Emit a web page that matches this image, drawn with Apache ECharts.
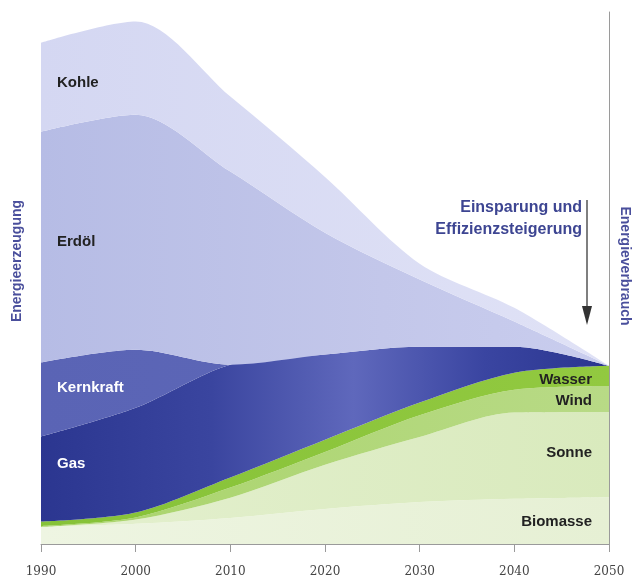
<!DOCTYPE html>
<html>
<head>
<meta charset="utf-8">
<script src="https://cdn.jsdelivr.net/npm/echarts@6/dist/echarts.min.js"></script>
<style>
html,body{margin:0;padding:0;background:#fff;}
#chart{width:642px;height:579px;}
</style>
</head>
<body>
<div id="chart"></div>
<script>
// Years (x axis categories / tick labels)
const years = ['1990', '2000', '2010', '2020', '2030', '2040', '2050'];
// Stacked layers, bottom to top (relative units)
const biomasse  = [3.2, 3.8, 4.9, 6.6, 7.9, 8.5, 8.8];
const sonne     = [0.0, 0.8, 3.8, 8.3, 12.2, 16.2, 16.0];
const wind      = [0.2, 0.4, 1.9, 2.4, 4.1, 4.3, 4.9];
const wasser    = [0.8, 0.9, 1.9, 2.3, 2.4, 3.2, 3.8];
const gas       = [16.0, 19.7, 21.2, 16.0, 10.5, 4.9, 0.0];
const kernkraft = [13.9, 10.9, 0.0, 0.0, 0.0, 0.0, 0.0];
const erdoel    = [43.4, 44.2, 36.3, 22.9, 12.6, 4.7, 0.0];
const kohle     = [16.7, 17.5, 14.1, 10.5, 3.0, 2.6, 0.0];

const seriesNames = ['Biomasse','Sonne','Wind','Wasser','Gas','Kernkraft','Erdöl','Kohle'];
const seriesData = [biomasse, sonne, wind, wasser, gas, kernkraft, erdoel, kohle];

function hgrad(stops){
  return {type:'linear', x:0, y:0, x2:1, y2:0,
    colorStops: stops.map(s => ({offset:s[0], color:s[1]}))};
}
const fills = [
  hgrad([[0,'#eef5e2'],[1,'#e6f0d4']]),
  hgrad([[0,'#e4f0cf'],[1,'#d9eabd']]),
  hgrad([[0,'#a9d46a'],[1,'#b8da86']]),
  hgrad([[0,'#86c238'],[1,'#92c940']]),
  hgrad([[0,'#2b3690'],[0.3,'#3a459f'],[0.55,'#5f68bc'],[0.78,'#3a45a1'],[1,'#2a358f']]),
  hgrad([[0,'#5a64b5'],[1,'#5f69b9']]),
  hgrad([[0,'#b6bce5'],[0.6,'#c3c7ea'],[1,'#c9cdee']]),
  hgrad([[0,'#d4d7f2'],[1,'#e0e2f6']])
];

const series = seriesNames.map((name, i) => ({
  name: name,
  type: 'line',
  stack: 'total',
  smooth: 0.3,
  symbol: 'none',
  showSymbol: false,
  lineStyle: {width: 0},
  areaStyle: {color: fills[i], opacity: 1},
  data: seriesData[i]
}));

const labelFont = 'Liberation Sans, Arial, sans-serif';
function txt(x, y, t, color, align){
  return {type:'text', x: x, y: y, z: 100,
    style:{text:t, fill:color, font:'bold 15px ' + labelFont,
      textAlign: align || 'left', textVerticalAlign:'middle'}};
}
function vtxt(x, y, t, rot){
  return {type:'text', x: x, y: y, rotation: rot, z: 100,
    style:{text:t, fill:'#4a4f9c', font:'bold 14px ' + labelFont,
      textAlign:'center', textVerticalAlign:'middle'}};
}

const chart = echarts.init(document.getElementById('chart'), null, {renderer:'canvas'});
chart.setOption({
  animation: false,
  backgroundColor: '#ffffff',
  grid: {left: 41, right: 33, top: 12, bottom: 35, containLabel: false, outerBoundsMode: 'none'},
  xAxis: {
    type: 'category', data: years, boundaryGap: false,
    axisLine: {show: true, lineStyle: {color: '#9a9a9a', width: 1}},
    axisTick: {show: true, length: 8, lineStyle: {color: '#9a9a9a'}},
    axisLabel: {color: '#444', fontSize: 12, margin: 22, fontFamily: 'DejaVu Serif, serif', interval: 0},
    splitLine: {show: false}
  },
  yAxis: [
    {type: 'value', min: 0, max: 100, position: 'left',
      axisLine: {show: false}, axisTick: {show: false}, axisLabel: {show: false},
      splitLine: {show: false}},
    {type: 'value', min: 0, max: 100, position: 'right',
      axisLine: {show: true, lineStyle: {color: '#9a9a9a', width: 1}},
      axisTick: {show: false}, axisLabel: {show: false}, splitLine: {show: false}}
  ],
  series: series,
  graphic: [
    vtxt(17, 261, 'Energieerzeugung', Math.PI / 2),
    vtxt(625, 266, 'Energieverbrauch', -Math.PI / 2),
    txt(57, 83, 'Kohle', '#222'),
    txt(57, 242, 'Erdöl', '#222'),
    txt(57, 388, 'Kernkraft', '#ffffff'),
    txt(57, 464, 'Gas', '#ffffff'),
    txt(592, 380, 'Wasser', '#222', 'right'),
    txt(592, 401, 'Wind', '#222', 'right'),
    txt(592, 453, 'Sonne', '#222', 'right'),
    txt(592, 522, 'Biomasse', '#222', 'right'),
    {type:'text', x: 582, y: 208, z: 100,
      style:{text:'Einsparung und', fill:'#3d4592', font:'bold 16px ' + labelFont,
        textAlign:'right', textVerticalAlign:'middle'}},
    {type:'text', x: 582, y: 230, z: 100,
      style:{text:'Effizienzsteigerung', fill:'#3d4592', font:'bold 16px ' + labelFont,
        textAlign:'right', textVerticalAlign:'middle'}},
    {type:'line', z: 100, shape:{x1: 587, y1: 200, x2: 587, y2: 310},
      style:{stroke:'#555', lineWidth: 1.5}},
    {type:'polygon', z: 100, shape:{points:[[582,306],[592,306],[587,325]]},
      style:{fill:'#333'}}
  ]
});
</script>
</body>
</html>
